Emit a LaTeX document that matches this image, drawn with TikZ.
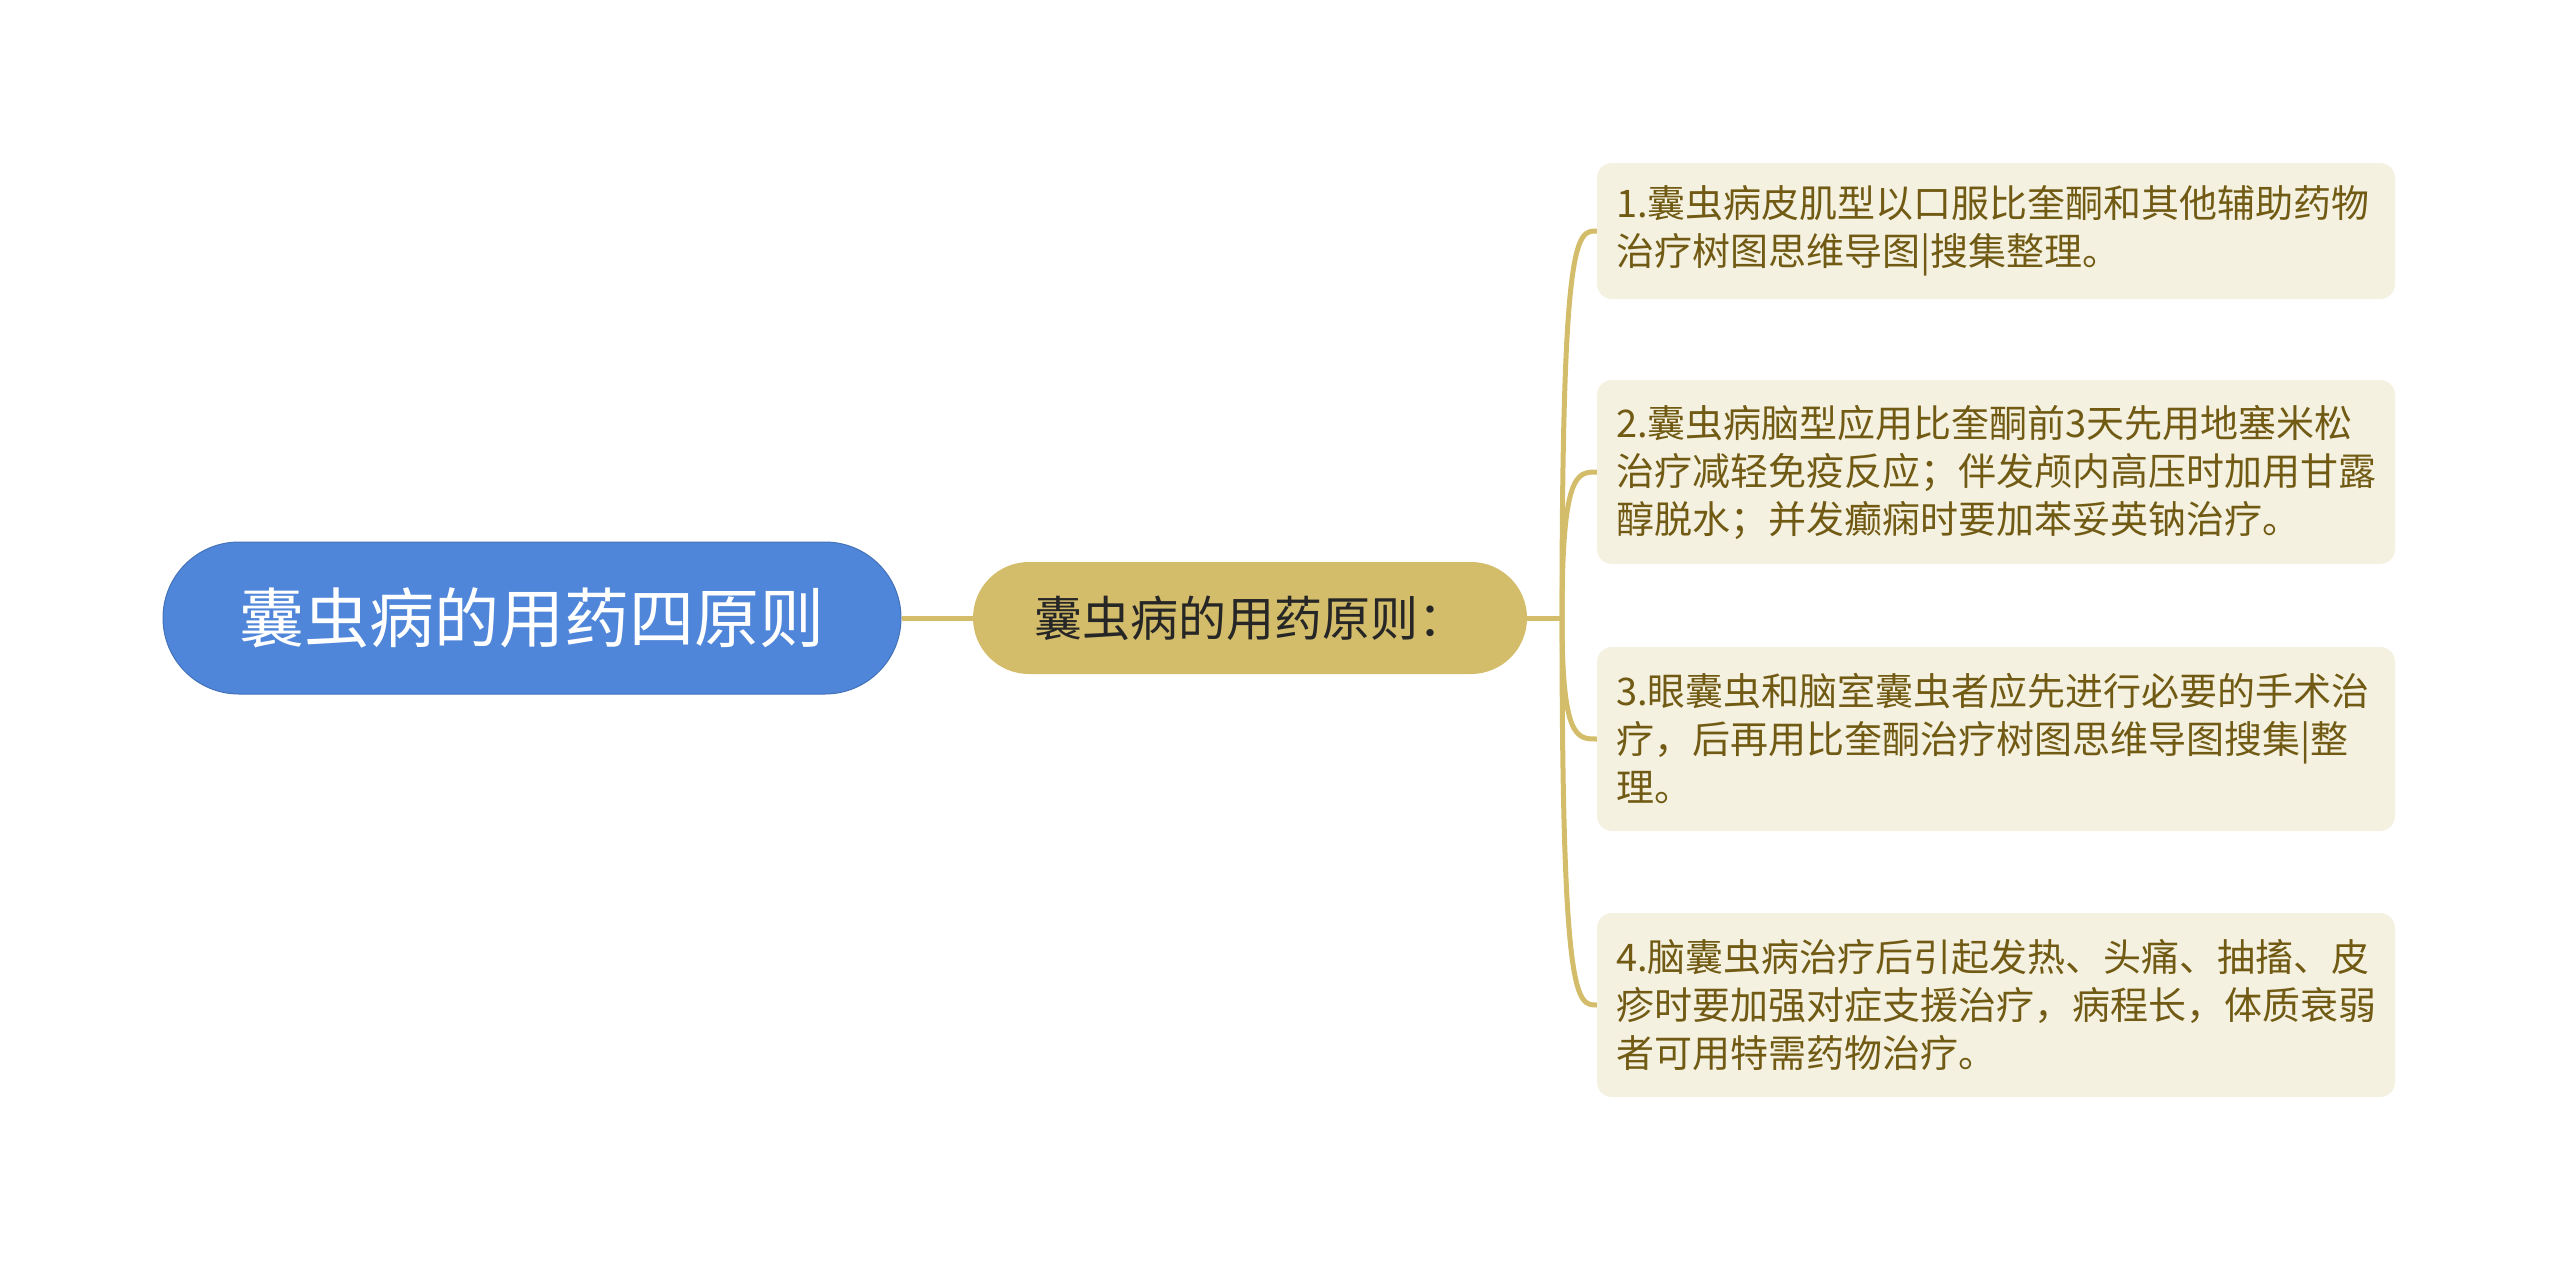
\documentclass[tikz,border=0pt]{standalone}
\usepackage{fontspec}
\newfontfamily\cjk{Noto Sans CJK SC}
\definecolor{rootblue}{HTML}{4F86D9}
\definecolor{topicgold}{HTML}{D3BC6A}
\definecolor{leafbg}{HTML}{F5F1E0}
\definecolor{leaftext}{HTML}{715B14}
\definecolor{linegold}{HTML}{D4BD6A}
\begin{document}
\begin{tikzpicture}[x=1pt, y=-1pt, align=center]
\tikzstyle{root}=[fill=rootblue, draw=rootblue!85!black, line width=1pt, text=white, rounded corners=76pt, minimum width=738pt, minimum height=152pt, font=\cjk\fontsize{65}{72}\selectfont]
\tikzstyle{topic}=[fill=topicgold, text=black!85, rounded corners=56pt, minimum width=554pt, minimum height=112pt, font=\cjk\fontsize{48}{54}\selectfont]
\tikzstyle{leaf}=[fill=leafbg, text=leaftext, rounded corners=15pt, text width=760pt, inner xsep=19pt, align=left, font=\cjk\fontsize{38}{48}\selectfont]
\tikzstyle{branch}=[draw=linegold, line width=5pt]
\useasboundingbox (0,0) rectangle (2560,1261);
\node[root] (main) at (532,618) {囊虫病的用药四原则};
\node[topic] (rule) at (1250,618) {囊虫病的用药原则：};
\node[leaf, minimum height=136pt] (l1) at (1996,231) {1.囊虫病皮肌型以口服比奎酮和其他辅助药物\\治疗树图思维导图|搜集整理。};
\node[leaf, minimum height=184pt] (l2) at (1996,472) {2.囊虫病脑型应用比奎酮前3天先用地塞米松\\治疗减轻免疫反应；伴发颅内高压时加用甘露\\醇脱水；并发癫痫时要加苯妥英钠治疗。};
\node[leaf, minimum height=184pt] (l3) at (1996,739) {3.眼囊虫和脑室囊虫者应先进行必要的手术治\\疗，后再用比奎酮治疗树图思维导图搜集|整\\理。};
\node[leaf, minimum height=184pt] (l4) at (1996,1005) {4.脑囊虫病治疗后引起发热、头痛、抽搐、皮\\疹时要加强对症支援治疗，病程长，体质衰弱\\者可用特需药物治疗。};
\coordinate (fork) at (1562,618);
\draw[branch] (main.east) -- (rule.west);
\draw[branch] (rule.east) -- (fork);
\foreach \leaf in {l1,l2,l3,l4}
  \draw[branch] (fork) .. controls (fork |- \leaf.west) and ([xshift=-20pt]\leaf.west) .. (\leaf.west);
\end{tikzpicture}
\end{document}
